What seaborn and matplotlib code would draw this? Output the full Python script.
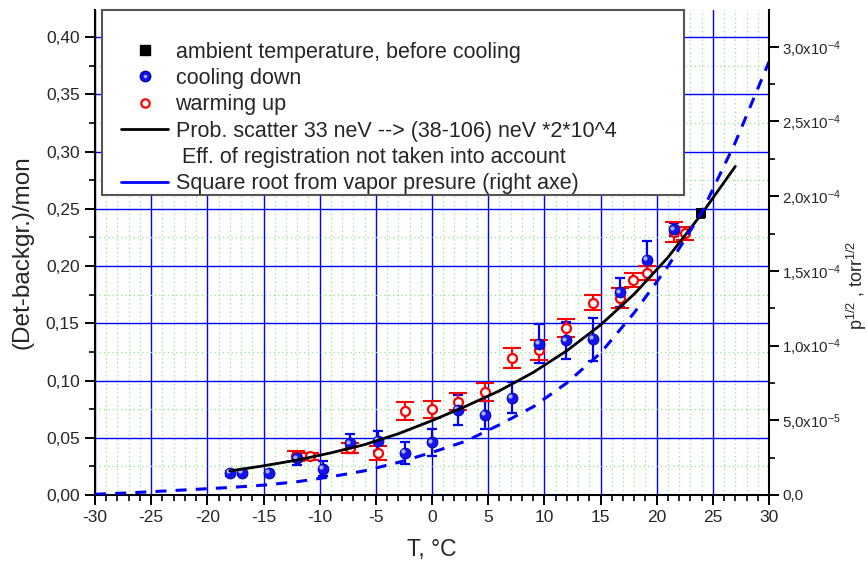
import matplotlib
matplotlib.use("Agg")
import matplotlib.pyplot as plt
import matplotlib.transforms as mtransforms
from matplotlib.lines import Line2D
from matplotlib.patches import Rectangle
from matplotlib.legend_handler import HandlerTuple
from matplotlib.ticker import MultipleLocator, FixedLocator, FixedFormatter
import seaborn as sns

# ambient temperature, before cooling
ambient_T = [23.9]
ambient_v = [0.246]
ambient_err = [0.004]

# cooling down
cool_T = [-18.0, -16.9, -14.5, -12.0, -9.7, -7.3, -4.8, -2.4, 0.0, 2.3, 4.7,
          7.1, 9.5, 11.9, 14.3, 16.7, 19.1, 21.5]
cool_v = [0.019, 0.0195, 0.019, 0.032, 0.023, 0.045, 0.047, 0.037, 0.046,
          0.074, 0.070, 0.085, 0.132, 0.135, 0.136, 0.177, 0.205, 0.232]
cool_err = [0.002, 0.002, 0.002, 0.0054, 0.0066, 0.0084, 0.009, 0.0095, 0.0116,
            0.013, 0.012, 0.0138, 0.017, 0.016, 0.0186, 0.0127, 0.0172, 0.0058]

# warming up
warm_T = [-12.1, -10.9, -7.3, -4.8, -2.4, 0.0, 2.3, 4.7, 7.1, 9.5, 11.9,
          14.3, 16.7, 17.9, 19.1, 21.5, 22.5]
warm_v = [0.034, 0.034, 0.041, 0.0367, 0.0736, 0.0748, 0.0815, 0.0897, 0.120,
          0.1266, 0.1456, 0.168, 0.172, 0.1878, 0.194, 0.230, 0.2285]
warm_err = [0.0044, 0.003, 0.004, 0.006, 0.008, 0.0077, 0.0073, 0.0077, 0.0087,
            0.0087, 0.008, 0.0066, 0.0087, 0.006, 0.0058, 0.0087, 0.006]

# scattering probability curve (left axis)
fit_T = [-18, -15, -12, -9, -6, -3, 0, 3, 6, 9, 12, 15, 18, 21, 24, 27]
fit_v = [0.021, 0.0255, 0.0305, 0.0368, 0.0440, 0.0535, 0.0650, 0.0775,
         0.0910, 0.1070, 0.1260, 0.1485, 0.1755, 0.2075, 0.2455, 0.2870]

# square root of vapor pressure, torr^1/2 (right axis)
vap_T = [-30, -27, -24, -21, -18, -15, -12, -9, -6, -3, 0, 3, 6, 9, 12, 15,
         18, 21, 24, 27, 30]
vap_p = [0.05e-5, 0.14e-5, 0.26e-5, 0.38e-5, 0.50e-5, 0.66e-5, 0.89e-5,
         1.22e-5, 1.62e-5, 2.18e-5, 2.85e-5, 3.60e-5, 4.70e-5, 5.90e-5,
         7.50e-5, 9.50e-5, 12.2e-5, 15.3e-5, 18.9e-5, 23.6e-5, 29.0e-5]

x_ticks = [-30, -25, -20, -15, -10, -5, 0, 5, 10, 15, 20, 25, 30]
y_ticks = [0.00, 0.05, 0.10, 0.15, 0.20, 0.25, 0.30, 0.35, 0.40]
y_tick_labels = ["0,00", "0,05", "0,10", "0,15", "0,20", "0,25", "0,30",
                 "0,35", "0,40"]
r_ticks = [0.0, 5e-5, 1e-4, 1.5e-4, 2e-4, 2.5e-4, 3e-4]
r_tick_labels = ["0,0", "5,0x10$^{-5}$", "1,0x10$^{-4}$", "1,5x10$^{-4}$",
                 "2,0x10$^{-4}$", "2,5x10$^{-4}$", "3,0x10$^{-4}$"]

legend_labels = [
    "ambient temperature, before cooling",
    "cooling down",
    "warming up",
    "Prob. scatter 33 neV --> (38-106) neV *2*10^4",
    " Eff. of registration not taken into account",
    "Square root from vapor presure (right axe)",
]

sns.set_theme(style="ticks")
plt.rcParams["font.family"] = ["Liberation Sans", "DejaVu Sans"]
plt.rcParams["mathtext.fontset"] = "custom"
plt.rcParams["mathtext.rm"] = "Liberation Sans"
plt.rcParams["mathtext.it"] = "Liberation Sans:italic"
plt.rcParams["mathtext.bf"] = "Liberation Sans:bold"
plt.rcParams["axes.unicode_minus"] = False

BLUE = "#0000ff"
fig = plt.figure(figsize=(8.67, 5.65), dpi=100)
ax = fig.add_axes([0.1096, 0.1239, 0.7774, 0.8584])

# grid
ax.set_xlim(-30, 30)
ax.set_ylim(0, 0.4236)
ax.xaxis.set_major_locator(FixedLocator(x_ticks))
ax.xaxis.set_minor_locator(MultipleLocator(1))
ax.yaxis.set_major_locator(FixedLocator(y_ticks))
ax.yaxis.set_major_formatter(FixedFormatter(y_tick_labels))
ax.yaxis.set_minor_locator(MultipleLocator(0.025))
ax.set_axisbelow(True)
ax.grid(which="minor", color="#8ee48e", lw=0.9, ls=(0, (1, 2.4)))
ax.grid(which="major", color=BLUE, lw=1.0, ls="-")

# error bars
ax.errorbar(cool_T, cool_v, yerr=cool_err, fmt="none", ecolor=BLUE,
            elinewidth=1.6, capsize=3.4, capthick=1.6, zorder=3)
ax.errorbar(warm_T, warm_v, yerr=warm_err, fmt="none", ecolor="#ff0000",
            elinewidth=1.5, capsize=6.8, capthick=1.5, zorder=3)
ax.errorbar(ambient_T, ambient_v, yerr=ambient_err, fmt="none", ecolor="black",
            elinewidth=1.2, capsize=3, capthick=1.2, zorder=3)

# markers
sns.scatterplot(x=warm_T, y=warm_v, ax=ax, marker="o", s=42, color="white",
                edgecolor="#ff0000", linewidth=1.6, zorder=4)
sns.scatterplot(x=cool_T, y=cool_v, ax=ax, marker="o", s=62, color="#1414f0",
                edgecolor="#0000a0", linewidth=0.6, zorder=5)
shine = mtransforms.offset_copy(ax.transData, fig=fig, x=-1.3, y=1.3,
                                units="points")
ax.scatter(cool_T, cool_v, s=9, color="#aab4ff", linewidth=0,
           transform=shine, zorder=6)
sns.scatterplot(x=ambient_T, y=ambient_v, ax=ax, marker="s", s=55,
                color="black", linewidth=0, zorder=5)

# probability curve
sns.lineplot(x=fit_T, y=fit_v, ax=ax, color="black", lw=2.0, sort=False,
             estimator=None, zorder=6)

for side in ("left", "bottom"):
    ax.spines[side].set_color("black")
    ax.spines[side].set_linewidth(1.5)
ax.spines["top"].set_visible(False)
ax.spines["right"].set_visible(False)
ax.tick_params(which="major", direction="out", length=7, width=1.4,
               color="black", labelsize=12.5, bottom=True, left=True, pad=4)
ax.tick_params(which="minor", direction="out", length=4, width=1.2,
               color="black", bottom=True, left=True)
ax.set_xlabel("T, °C", fontsize=16.5, labelpad=9)
ax.set_ylabel("(Det-backgr.)/mon", fontsize=17.5, labelpad=9)

# right axis: vapor pressure
ax2 = ax.twinx()
ax2.set_ylim(0, 3.246e-4)
sns.lineplot(x=vap_T, y=vap_p, ax=ax2, color=BLUE, lw=2.2, sort=False,
             estimator=None)
ax2.lines[-1].set_linestyle((0, (3.6, 3.0)))
ax2.yaxis.set_major_locator(FixedLocator(r_ticks))
ax2.yaxis.set_major_formatter(FixedFormatter(r_tick_labels))
ax2.yaxis.set_minor_locator(MultipleLocator(2.5e-5))
ax2.grid(False)
for side in ("top", "left", "bottom"):
    ax2.spines[side].set_visible(False)
ax2.spines["right"].set_color("black")
ax2.spines["right"].set_linewidth(1.5)
ax2.tick_params(which="major", direction="out", length=7, width=1.4,
                color="black", labelsize=10.8, right=True, pad=2.5)
ax2.tick_params(which="minor", direction="out", length=4, width=1.2,
                color="black", right=True)
ax2.set_ylabel("p$^{1/2}$ , torr$^{1/2}$", fontsize=13, rotation=90)
ax2.yaxis.set_label_coords(1.112, 0.433)

# legend box
ax2.add_patch(Rectangle((0.0099, 0.6186), 0.8635, 0.3814,
                        transform=ax2.transAxes, facecolor="white",
                        edgecolor="#555555", lw=1.5, zorder=8, clip_on=False))
handles = [
    Line2D([], [], ls="none", marker="s", color="black", markersize=6.5),
    (Line2D([], [], ls="none", marker="o", markerfacecolor="#1414f0",
            markeredgecolor="#0000a0", markersize=7.5),
     Line2D([], [], ls="none", marker="o", markerfacecolor="#aab4ff",
            markeredgewidth=0, markersize=2.5)),
    Line2D([], [], ls="none", marker="o", markerfacecolor="white",
           markeredgecolor="#ff0000", markeredgewidth=1.6, markersize=6),
    Line2D([], [], color="black", lw=2),
    Line2D([], [], ls="none"),
    Line2D([], [], color=BLUE, lw=2),
]
leg = ax2.legend(handles, legend_labels, loc="upper left",
                 bbox_to_anchor=(0.0386, 0.935), bbox_transform=ax2.transAxes,
                 frameon=False, fontsize=15.5, borderpad=0, borderaxespad=0,
                 handlelength=2.2, handletextpad=0.33, labelspacing=0.25,
                 handler_map={tuple: HandlerTuple(ndivide=1)})
leg.set_zorder(9)

fig.savefig("out.png", dpi=100)
